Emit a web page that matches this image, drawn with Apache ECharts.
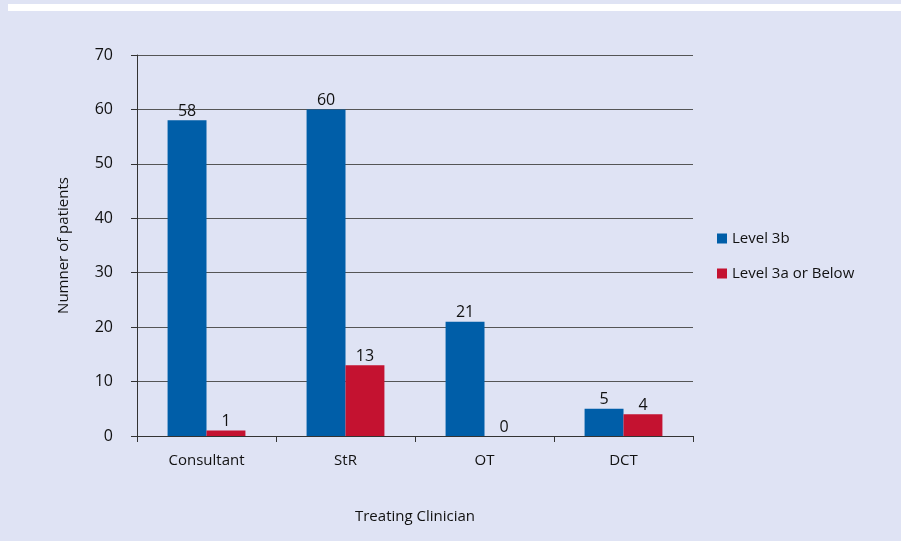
<!DOCTYPE html>
<html>
<head>
<meta charset="utf-8">
<script src="https://cdn.jsdelivr.net/npm/echarts@6/dist/echarts.min.js"></script>
<style>
  html, body { margin: 0; padding: 0; background: #dfe3f4; }
  #chart { width: 901px; height: 541px; }
</style>
</head>
<body>
<div id="chart"></div>
<script>
const categories = ["Consultant", "StR", "OT", "DCT"];
const level3b = [58, 60, 21, 5];
const level3aOrBelow = [1, 13, 0, 4];
const yTicks = [0, 10, 20, 30, 40, 50, 60, 70];

const font = "'Open Sans', 'Noto Sans', sans-serif";
const chart = echarts.init(document.getElementById("chart"), null, { renderer: "canvas" });

chart.setOption({
  animation: false,
  backgroundColor: "#dfe3f4",
  textStyle: { fontFamily: font },
  graphic: [
    { type: "rect", shape: { x: 8, y: 4, width: 893, height: 7 }, style: { fill: "#ffffff" } },
  ],
  grid: { left: 137, right: 208, top: 55, bottom: 105 },
  legend: {
    orient: "vertical",
    left: 712,
    top: 226,
    itemWidth: 10,
    itemHeight: 10,
    itemGap: 20,
    icon: "rect",
    textStyle: { color: "#111", fontSize: 15, fontFamily: font },
    data: ["Level 3b", "Level 3a or Below"],
  },
  xAxis: {
    type: "category",
    data: categories,
    name: "Treating Clinician",
    nameLocation: "middle",
    nameGap: 73,
    nameTextStyle: { color: "#111", fontSize: 15 },
    axisLine: { lineStyle: { color: "#333", width: 1 } },
    axisTick: { show: true, alignWithLabel: false, length: 6, lineStyle: { color: "#333" } },
    axisLabel: { color: "#111", fontSize: 15, margin: 17, fontFamily: font },
  },
  yAxis: {
    type: "value",
    min: 0,
    max: 70,
    interval: 10,
    name: "Numner of patients",
    nameLocation: "middle",
    nameGap: 66,
    nameTextStyle: { color: "#111", fontSize: 15 },
    axisLine: { show: true, lineStyle: { color: "#333", width: 1 } },
    axisTick: { show: true, inside: false, length: 6, lineStyle: { color: "#333" } },
    axisLabel: {
      color: "#111",
      fontSize: 16,
      margin: 24,
      fontFamily: font,
      formatter: (v) => (yTicks.includes(v) ? String(v) : ""),
    },
    splitLine: { lineStyle: { color: "#555", width: 1 } },
  },
  series: [
    {
      name: "Level 3b",
      type: "bar",
      data: level3b,
      barGap: "0%",
      barCategoryGap: "44%",
      itemStyle: { color: "#005ea8" },
      label: { show: true, position: "top", color: "#111", fontSize: 16, distance: 1, fontFamily: font },
    },
    {
      name: "Level 3a or Below",
      type: "bar",
      data: level3aOrBelow,
      itemStyle: { color: "#c41230" },
      label: { show: true, position: "top", color: "#111", fontSize: 16, distance: 1, fontFamily: font },
    },
  ],
});
</script>
</body>
</html>
